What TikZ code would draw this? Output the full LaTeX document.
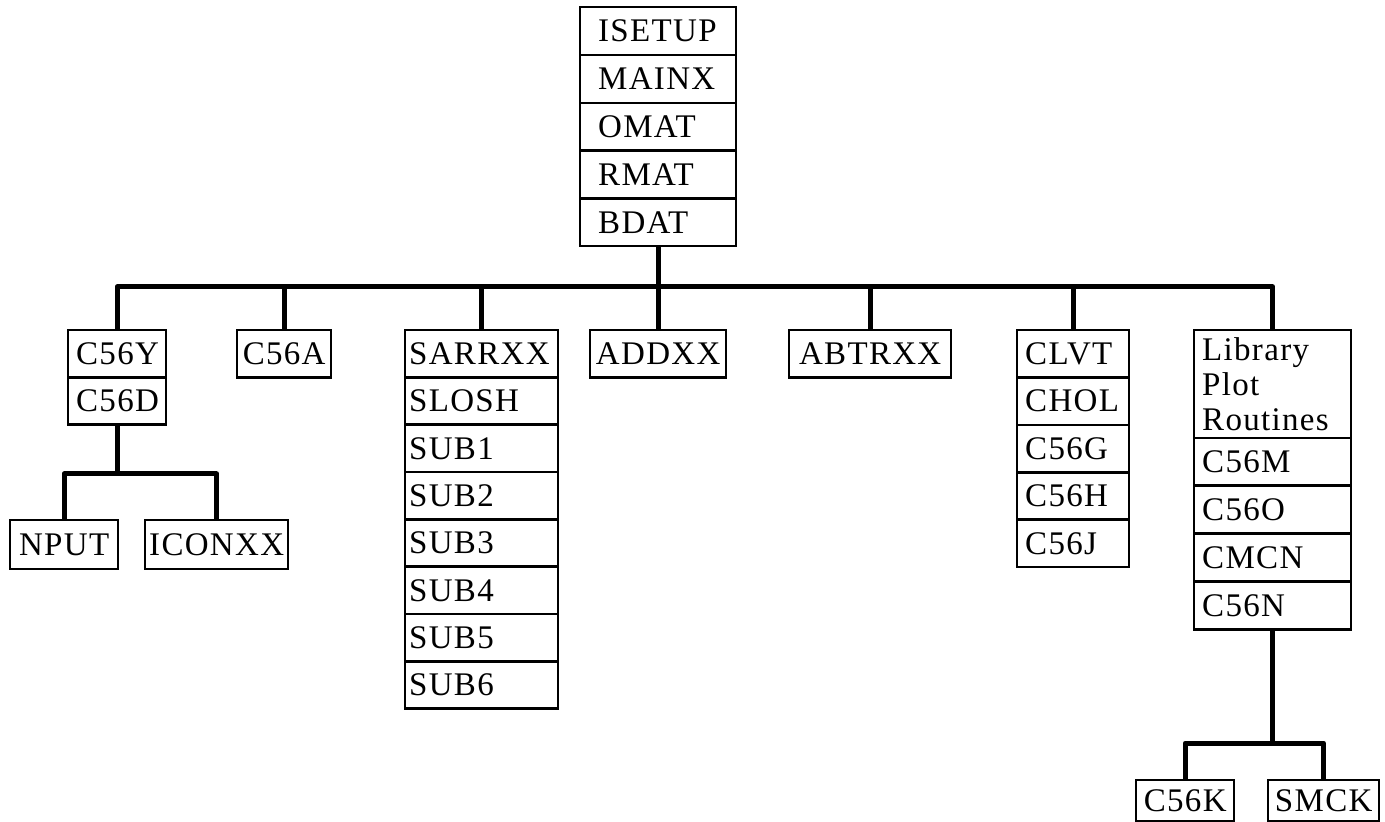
\documentclass[tikz,border=0pt]{standalone}
\usepackage{fontspec}
\setmainfont{Liberation Serif}[LetterSpace=4]
\usepackage{tikz}
\usetikzlibrary{positioning}
\newcommand{\routinefont}{\fontsize{16.5}{17.5}\selectfont}

\begin{document}
\begin{tikzpicture}[x=0.5pt, y=-0.5pt,
  routine/.style={draw, line width=1.2pt, inner ysep=0pt, inner xsep=4pt,
    minimum height=23.6pt, anchor=north west, font=\routinefont},
  stackrow/.style={routine, text width=#1, align=left},
  leaf/.style={routine, inner xsep=2pt, minimum width=#1},
  link/.style={line width=2.5pt, line join=round}]
\useasboundingbox (0,0) rectangle (1385,822);

% main program
\foreach \lab [count=\i] in {ISETUP,MAINX,OMAT,RMAT,BDAT}
  \node[stackrow=60pt, inner xsep=9pt, minimum height=23.9pt] (main\i) at (579,{6+47.8*(\i-1)}) {\lab};

% second level
\foreach \lab [count=\i] in {C56Y,C56D}
  \node[stackrow=41pt] (cy\i) at (67,{329+47*(\i-1)}) {\lab};
\node[leaf=47pt] (ca) at (236,329) {C56A};
\foreach \lab [count=\i] in {SARRXX,SLOSH,SUB1,SUB2,SUB3,SUB4,SUB5,SUB6}
  \node[stackrow=72.5pt, inner xsep=2pt] (sar\i) at (404,{329+47.3*(\i-1)}) {\lab};
\node[leaf=68pt] (add) at (589,329) {ADDXX};
\node[leaf=81pt] (abt) at (788,329) {ABTRXX};
\foreach \lab [count=\i] in {CLVT,CHOL,C56G,C56H,C56J}
  \node[stackrow=48pt] (clv\i) at (1016,{329+47.4*(\i-1)}) {\lab};
\node[stackrow=70.5pt, minimum height=54pt] (lib0) at (1193,329) {Library\\Plot\\Routines};
\foreach \lab [count=\i] in {C56M,C56O,CMCN,C56N}
  \node[stackrow=70.5pt] (lib\i) at (1193,{437+48*(\i-1)}) {\lab};

% third level
\node[leaf=54pt, minimum height=24.5pt] (nput) at (9,519) {NPUT};
\node[leaf=71.5pt, minimum height=24.5pt] (iconxx) at (144,519) {ICONXX};
\node[leaf=49pt, minimum height=20.5pt] (ck) at (1135,779) {C56K};
\node[leaf=55.5pt, minimum height=20.5pt] (smck) at (1267,779) {SMCK};

% connectors
\coordinate (trunk) at (main5.south |- 0,287);
\draw[link] (main5.south) -- (trunk);
\foreach \child in {cy1,ca,sar1,add,abt,clv1,lib0}
  \draw[link] (trunk) -| (\child.north);

\coordinate (subl) at (cy2.south |- 0,474);
\draw[link] (cy2.south) -- (subl);
\foreach \child in {nput,iconxx}
  \draw[link] (subl) -| (\child.north);

\coordinate (subr) at (lib4.south |- 0,743);
\draw[link] (lib4.south) -- (subr);
\foreach \child in {ck,smck}
  \draw[link] (subr) -| (\child.north);
\end{tikzpicture}
\end{document}
